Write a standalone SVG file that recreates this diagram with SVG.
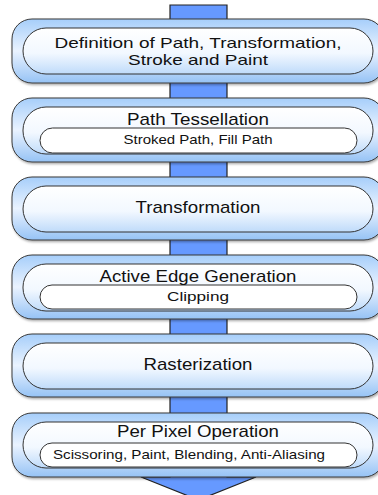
<svg xmlns="http://www.w3.org/2000/svg" width="378" height="495" viewBox="0 0 378 495">
<defs>
<linearGradient id="gOuter" x1="0" y1="0" x2="0" y2="1">
<stop offset="0" stop-color="#A6CEFA"/>
<stop offset="0.5" stop-color="#EAF3FF"/>
<stop offset="1" stop-color="#96C3F5"/>
</linearGradient>
<linearGradient id="gInner" x1="0" y1="0" x2="0" y2="1">
<stop offset="0" stop-color="#FFFFFF"/>
<stop offset="0.55" stop-color="#F2F8FF"/>
<stop offset="1" stop-color="#BFDBFA"/>
</linearGradient>
<filter id="sh" x="-5%" y="-10%" width="110%" height="130%">
<feDropShadow dx="1" dy="1.5" stdDeviation="0.8" flood-color="#000" flood-opacity="0.35"/>
</filter>
</defs>
<style>
.outer{fill:url(#gOuter);stroke:#3a3a3a;stroke-width:1;filter:url(#sh)}
.inner{fill:url(#gInner);stroke:#333;stroke-width:1}
.sub{fill:#FFFFFF;stroke:#333;stroke-width:1}
.arrow{fill:#6699FF;stroke:#222;stroke-width:1.2}
text{font-family:"Liberation Sans",Arial,sans-serif;fill:#111;text-anchor:middle}
.t{font-size:17px}
.t2{font-size:15px}
.s{font-size:13px}
</style>
<g id="connectors">
<polygon class="arrow" points="170,5 227,5 227,477 256,477 198.5,500 141,477 170,477"/>
</g>
<g id="node1">
<rect class="outer" x="12" y="19" width="372" height="64" rx="20"/>
<rect class="inner" x="23" y="28" width="350" height="46" rx="23"/>
<text class="t2" x="198" y="47.5" textLength="287" lengthAdjust="spacingAndGlyphs">Definition of Path, Transformation,</text>
<text class="t2" x="198" y="65" textLength="140" lengthAdjust="spacingAndGlyphs">Stroke and Paint</text>
</g>
<g id="node2">
<rect class="outer" x="12" y="98" width="372" height="64" rx="20"/>
<rect class="inner" x="23" y="107" width="350" height="47" rx="23"/>
<rect class="sub" x="40" y="128" width="317" height="25" rx="12.5"/>
<text class="t" x="198" y="125" textLength="142" lengthAdjust="spacingAndGlyphs">Path Tessellation</text>
<text class="s" x="198" y="144" textLength="149" lengthAdjust="spacingAndGlyphs">Stroked Path, Fill Path</text>
</g>
<g id="node3">
<rect class="outer" x="12" y="177" width="372" height="63" rx="20"/>
<rect class="inner" x="23" y="186" width="350" height="46" rx="23"/>
<text class="t" x="198" y="213" textLength="125" lengthAdjust="spacingAndGlyphs">Transformation</text>
</g>
<g id="node4">
<rect class="outer" x="12" y="255" width="372" height="64" rx="20"/>
<rect class="inner" x="23" y="264" width="350" height="47" rx="23"/>
<rect class="sub" x="40" y="285" width="317" height="24" rx="12"/>
<text class="t" x="198" y="282" textLength="197" lengthAdjust="spacingAndGlyphs">Active Edge Generation</text>
<text class="s" x="198" y="301" textLength="62" lengthAdjust="spacingAndGlyphs">Clipping</text>
</g>
<g id="node5">
<rect class="outer" x="12" y="334" width="372" height="63" rx="20"/>
<rect class="inner" x="23" y="343" width="350" height="46" rx="23"/>
<text class="t" x="198" y="370" textLength="109" lengthAdjust="spacingAndGlyphs">Rasterization</text>
</g>
<g id="node6">
<rect class="outer" x="12" y="413" width="372" height="64" rx="20"/>
<rect class="inner" x="23" y="422" width="350" height="46" rx="23"/>
<rect class="sub" x="40" y="443" width="317" height="24" rx="12"/>
<text class="t" x="198" y="437" textLength="162" lengthAdjust="spacingAndGlyphs">Per Pixel Operation</text>
<text class="s" x="189" y="459" textLength="272" lengthAdjust="spacingAndGlyphs">Scissoring, Paint, Blending, Anti-Aliasing</text>
</g>
</svg>
